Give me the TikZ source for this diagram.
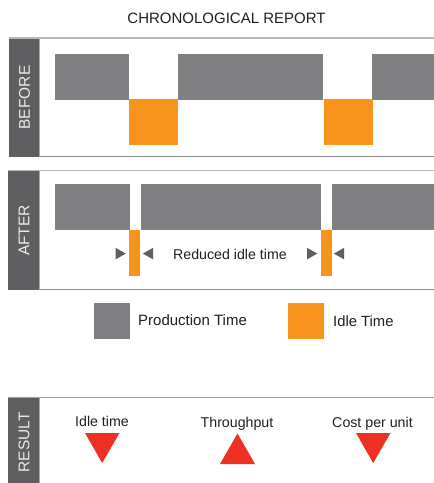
\documentclass[tikz,border=0pt]{standalone}
\usepackage{fontspec}
\setmainfont{Liberation Sans}
\definecolor{prodgray}{HTML}{808083}
\definecolor{idleorange}{HTML}{F7941D}
\definecolor{barDark}{HTML}{5F5F61}
\definecolor{barEdge}{HTML}{A8A8A8}
\definecolor{lineLight}{HTML}{B8B8B8}
\definecolor{lineDark}{HTML}{8C8C8C}
\definecolor{txt}{HTML}{231F20}
\definecolor{downred}{HTML}{EE3124}
\begin{document}
\begin{tikzpicture}[x=1pt,y=-1pt,
  prod/.style={fill=prodgray},
  idle/.style={fill=idleorange},
  labelbar/.style={fill=barDark},
  labeltext/.style={text=white!92!black,font=\fontsize{15.5}{17}\selectfont,rotate=90,inner sep=0pt},
  body/.style={text=txt,font=\fontsize{14.2}{16}\selectfont,inner sep=0pt,anchor=base},
  pointer/.style={fill=barDark},
  trend/.style={fill=downred}]
\useasboundingbox[fill=white] (0,0) rectangle (434,483);

% title
\node[body,font=\fontsize{15}{17}\selectfont] (title) at (226.5,23.3) {CHRONOLOGICAL REPORT};

% ---------- BEFORE panel
\fill[labelbar] (8.5,38) rectangle (39.5,157.3);
\draw[barEdge,line width=1.2pt] (39.6,38) -- (39.6,157.3);
\draw[lineLight,line width=1.4pt] (8.5,37.8) -- (434,37.8);
\draw[lineDark,line width=1.2pt] (40,156.7) -- (434,156.7);
\node[labeltext] (before) at (24.5,97.5) {BEFORE};
\fill[prod] (55,54) rectangle (129,100);
\fill[prod] (178,54) rectangle (323,100);
\fill[prod] (372,54) rectangle (434,100);
\fill[idle] (129,99) rectangle (178,145);
\fill[idle] (324,99) rectangle (373,145);

% ---------- AFTER panel
\fill[labelbar] (8,170) rectangle (39,289.7);
\draw[barEdge,line width=1.2pt] (39.4,170) -- (39.4,289.7);
\draw[lineLight,line width=1.4pt] (8,170.6) -- (434,170.6);
\draw[lineDark,line width=1.2pt] (40,289.1) -- (434,289.1);
\node[labeltext] (after) at (24,230.5) {AFTER};
\fill[prod] (55,184) rectangle (130,229.7);
\fill[prod] (141,184) rectangle (321,229.7);
\fill[prod] (332,184) rectangle (434,229.7);
\fill[idle] (129,229.7) rectangle (140,275.7);
\fill[idle] (321,229.7) rectangle (332,275.7);
\fill[pointer] (115.5,247.8) -- (125.8,253.6) -- (115.5,259.4) -- cycle;
\fill[pointer] (153.2,247.8) -- (142.9,253.6) -- (153.2,259.4) -- cycle;
\fill[pointer] (307,247.8) -- (317.3,253.6) -- (307,259.4) -- cycle;
\fill[pointer] (344.2,247.8) -- (333.9,253.6) -- (344.2,259.4) -- cycle;
\node[body] (reduced) at (230,259.3) {Reduced idle time};

% ---------- legend
\fill[prod] (94,303) rectangle (130,338.7);
\node[body,anchor=base west,font=\fontsize{15}{17}\selectfont] (prodlbl) at (138,325) {Production Time};
\fill[idle] (288,303) rectangle (324,338.7);
\node[body,anchor=base west,font=\fontsize{14.8}{17}\selectfont] (idlelbl) at (333,326) {Idle Time};

% ---------- RESULT panel
\fill[labelbar] (8,397) rectangle (39,483);
\draw[barEdge,line width=1.2pt] (39.4,397) -- (39.4,483);
\draw[lineDark!80!white,line width=1.2pt] (8,397.4) -- (434,397.4);
\node[labeltext] (result) at (24,442.5) {RESULT};
\node[body] (r1) at (102,426) {Idle time};
\node[body] (r2) at (237,427) {Throughput};
\node[body] (r3) at (372.5,427) {Cost per unit};
\fill[trend] (85,433) -- (119.5,433) -- (102.2,463) -- cycle;
\fill[trend] (220,464) -- (255,464) -- (237.5,433.5) -- cycle;
\fill[trend] (356,433) -- (390.5,433) -- (373.2,463) -- cycle;
\end{tikzpicture}
\end{document}
